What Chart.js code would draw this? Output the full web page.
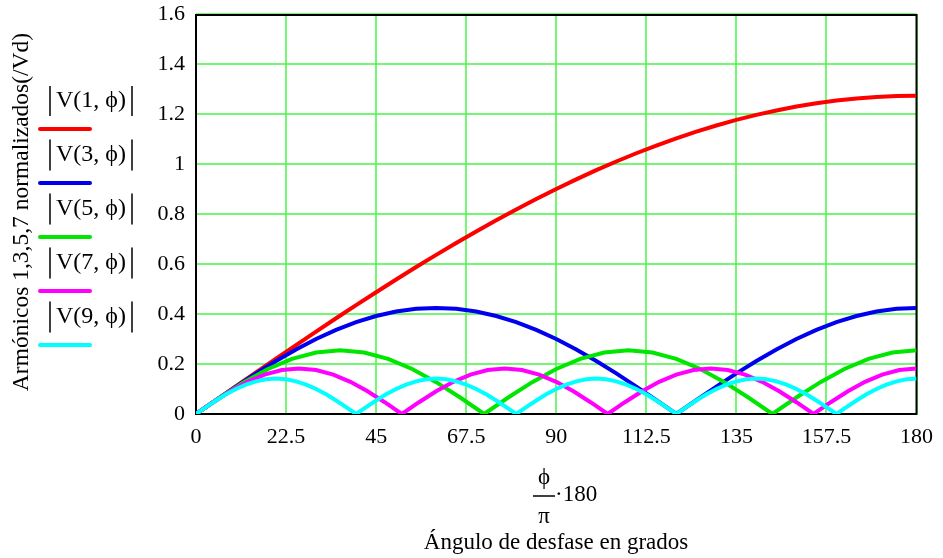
<!DOCTYPE html>
<html>
<head>
<meta charset="utf-8">
<script src="https://cdn.jsdelivr.net/npm/chart.js@4.4.1/dist/chart.umd.min.js"></script>
<style>
  html, body { margin: 0; padding: 0; background: #fff; }
  #wrap { width: 943px; height: 558px; }
</style>
</head>
<body>
<div id="wrap"><canvas id="harmonicsChart"></canvas></div>
<script>
const phiCoarse = [0, 5, 10, 15, 20, 25, 30, 35, 40, 45, 50, 55, 60, 65, 70, 75, 80, 85, 90,
    95, 100, 105, 110, 115, 120, 125, 130, 135, 140, 145, 150, 155, 160, 165, 170, 175, 180];
const phiV5 = [0, 6, 12, 18, 24, 30, 36, 42, 48, 54, 60, 66, 72, 78, 84, 90, 96, 102, 108,
    114, 120, 126, 132, 138, 144, 150, 156, 162, 168, 174, 180];
const phiV7 = [0, 4.29, 8.57, 12.86, 17.14, 21.43, 25.71, 30, 34.29, 38.57, 42.86, 47.14,
    51.43, 55.71, 60, 64.29, 68.57, 72.86, 77.14, 81.43, 85.71, 90, 94.29, 98.57, 102.86,
    107.14, 111.43, 115.71, 120, 124.29, 128.57, 132.86, 137.14, 141.43, 145.71, 150,
    154.29, 158.57, 162.86, 167.14, 171.43, 175.71, 180];
const phiFine = [0, 2.5, 5, 7.5, 10, 12.5, 15, 17.5, 20, 22.5, 25, 27.5, 30, 32.5, 35, 37.5,
    40, 42.5, 45, 47.5, 50, 52.5, 55, 57.5, 60, 62.5, 65, 67.5, 70, 72.5, 75, 77.5, 80, 82.5,
    85, 87.5, 90, 92.5, 95, 97.5, 100, 102.5, 105, 107.5, 110, 112.5, 115, 117.5, 120, 122.5,
    125, 127.5, 130, 132.5, 135, 137.5, 140, 142.5, 145, 147.5, 150, 152.5, 155, 157.5, 160,
    162.5, 165, 167.5, 170, 172.5, 175, 177.5, 180];

// Normalized harmonic amplitudes |V(n, phi)|
const v1 = [0, 0.0555, 0.1110, 0.1662, 0.2211, 0.2756, 0.3295, 0.3829, 0.4355, 0.4872, 0.5381,
    0.5879, 0.6366, 0.6841, 0.7303, 0.7751, 0.8184, 0.8602, 0.9003, 0.9387, 0.9754, 1.0101,
    1.0430, 1.0738, 1.1027, 1.1294, 1.1539, 1.1763, 1.1965, 1.2143, 1.2298, 1.2431, 1.2539,
    1.2623, 1.2684, 1.2720, 1.2732];
const v3 = [0, 0.0554, 0.1098, 0.1624, 0.2122, 0.2584, 0.3001, 0.3367, 0.3676, 0.3921, 0.4100,
    0.4208, 0.4244, 0.4208, 0.4100, 0.3921, 0.3676, 0.3367, 0.3001, 0.2584, 0.2122, 0.1624,
    0.1098, 0.0554, 0, 0.0554, 0.1098, 0.1624, 0.2122, 0.2584, 0.3001, 0.3367, 0.3676, 0.3921,
    0.4100, 0.4208, 0.4244];
const v5 = [0, 0.0659, 0.1273, 0.1801, 0.2205, 0.2460, 0.2546, 0.2460, 0.2205, 0.1801, 0.1273,
    0.0659, 0, 0.0659, 0.1273, 0.1801, 0.2205, 0.2460, 0.2546, 0.2460, 0.2205, 0.1801, 0.1273,
    0.0659, 0, 0.0659, 0.1273, 0.1801, 0.2205, 0.2460, 0.2546];
const v7 = [0, 0.0471, 0.0909, 0.1286, 0.1575, 0.1757, 0.1819, 0.1757, 0.1575, 0.1286, 0.0909,
    0.0471, 0, 0.0471, 0.0909, 0.1286, 0.1575, 0.1757, 0.1819, 0.1757, 0.1575, 0.1286, 0.0909,
    0.0471, 0, 0.0471, 0.0909, 0.1286, 0.1575, 0.1757, 0.1819, 0.1757, 0.1575, 0.1286, 0.0909,
    0.0471, 0, 0.0471, 0.0909, 0.1286, 0.1575, 0.1757, 0.1819];
const v9 = [0, 0.0276, 0.0541, 0.0786, 0.1000, 0.1176, 0.1307, 0.1388, 0.1415, 0.1388, 0.1307,
    0.1176, 0.1000, 0.0786, 0.0541, 0.0276, 0, 0.0276, 0.0541, 0.0786, 0.1000, 0.1176, 0.1307,
    0.1388, 0.1415, 0.1388, 0.1307, 0.1176, 0.1000, 0.0786, 0.0541, 0.0276, 0, 0.0276, 0.0541,
    0.0786, 0.1000, 0.1176, 0.1307, 0.1388, 0.1415, 0.1388, 0.1307, 0.1176, 0.1000, 0.0786,
    0.0541, 0.0276, 0, 0.0276, 0.0541, 0.0786, 0.1000, 0.1176, 0.1307, 0.1388, 0.1415, 0.1388,
    0.1307, 0.1176, 0.1000, 0.0786, 0.0541, 0.0276, 0, 0.0276, 0.0541, 0.0786, 0.1000, 0.1176,
    0.1307, 0.1388, 0.1415];

const seriesNames = ["V(1, \u03D5)", "V(3, \u03D5)", "V(5, \u03D5)", "V(7, \u03D5)", "V(9, \u03D5)"];
const seriesColors = ["#ff0000", "#0000ee", "#00e600", "#ff00ff", "#00ffff"];

const yTitle = "Armónicos 1,3,5,7 normalizados(/Vd)";
const xTitle = "Ángulo de desfase en grados";

const FONT = "'Liberation Serif', 'Times New Roman', serif";

function toPoints(xs, ys) {
    return xs.map((x, i) => ({ x: x, y: ys[i] }));
}

// Frame behind the curves, legend + titles on top
const decorPlugin = {
    id: "decor",
    beforeDatasetsDraw(chart) {
        const ctx = chart.ctx;
        const a = chart.chartArea;
        ctx.save();
        ctx.strokeStyle = "#000";
        ctx.lineWidth = 2;
        ctx.strokeRect(a.left, a.top + 1, a.right - a.left, a.bottom - a.top - 1);
        ctx.restore();
    },
    afterDraw(chart) {
        const ctx = chart.ctx;
        ctx.save();
        ctx.fillStyle = "#000";

        // legend on the left: |V(n, phi)| with a colored line under it
        for (let i = 0; i < seriesNames.length; i++) {
            const ty = 101 + 54 * i;
            const ly = 129 + 54 * i;
            ctx.font = "24px " + FONT;
            ctx.textAlign = "center";
            ctx.textBaseline = "middle";
            ctx.fillText(seriesNames[i], 91, ty);
            ctx.strokeStyle = "#000";
            ctx.lineWidth = 1.5;
            ctx.beginPath();
            ctx.moveTo(50, ty - 15); ctx.lineTo(50, ty + 15);
            ctx.moveTo(132, ty - 15); ctx.lineTo(132, ty + 15);
            ctx.stroke();
            ctx.strokeStyle = seriesColors[i];
            ctx.lineWidth = 4;
            ctx.lineCap = "round";
            ctx.beginPath();
            ctx.moveTo(40, ly); ctx.lineTo(90, ly);
            ctx.stroke();
        }

        // rotated y title
        ctx.save();
        ctx.translate(22, 212);
        ctx.rotate(-Math.PI / 2);
        ctx.font = "23.5px " + FONT;
        ctx.textAlign = "center";
        ctx.textBaseline = "middle";
        ctx.fillText(yTitle, 0, 0);
        ctx.restore();

        // x title: phi/pi * 180
        ctx.font = "23px " + FONT;
        ctx.textAlign = "center";
        ctx.textBaseline = "middle";
        ctx.fillText("\u03D5", 544, 478);
        ctx.fillText("\u03C0", 544, 517);
        ctx.strokeStyle = "#000";
        ctx.lineWidth = 1.5;
        ctx.lineCap = "butt";
        ctx.beginPath();
        ctx.moveTo(533, 496); ctx.lineTo(555, 496);
        ctx.stroke();
        ctx.textAlign = "left";
        ctx.fillText("\u00B7180", 555, 495);
        ctx.textAlign = "center";
        ctx.fillText(xTitle, 556, 543);
        ctx.restore();
    }
};

const datasets = [v1, v3, v5, v7, v9].map((vals, i) => {
    const xs = [phiCoarse, phiCoarse, phiV5, phiV7, phiFine][i];
    return {
        label: seriesNames[i],
        data: toPoints(xs, vals),
        borderColor: seriesColors[i],
        backgroundColor: seriesColors[i],
        borderWidth: 4,
        pointRadius: 0,
        tension: 0,
        fill: false,
        order: 4 - i // later traces drawn on top, like the original
    };
});

const ctx = document.getElementById("harmonicsChart").getContext("2d");
new Chart(ctx, {
    type: "line",
    data: { datasets: datasets },
    options: {
        responsive: true,
        maintainAspectRatio: false,
        animation: false,
        layout: { padding: { top: 14, right: 26, left: 0, bottom: 0 } },
        plugins: {
            legend: { display: false },
            tooltip: { enabled: false }
        },
        scales: {
            x: {
                type: "linear",
                min: 0,
                max: 180,
                afterFit(scale) { scale.height = 144; },
                border: { display: false },
                grid: { color: "rgba(70, 245, 70, 0.75)", lineWidth: 2, drawTicks: false },
                ticks: {
                    stepSize: 22.5,
                    color: "#000",
                    padding: 10,
                    maxRotation: 0,
                    font: { family: FONT, size: 22 }
                }
            },
            y: {
                min: 0,
                max: 1.6,
                afterFit(scale) {
                    scale.width = 196;
                    scale.paddingTop = 0;    // let layout.padding decide the top edge
                    scale.paddingBottom = 0;
                },
                border: { display: false },
                grid: { color: "rgba(70, 245, 70, 0.75)", lineWidth: 2, drawTicks: false },
                ticks: {
                    stepSize: 0.2,
                    color: "#000",
                    padding: 11,
                    font: { family: FONT, size: 22 },
                    callback: v => String(Math.round(v * 10) / 10)
                }
            }
        }
    },
    plugins: [decorPlugin]
});
</script>
</body>
</html>
